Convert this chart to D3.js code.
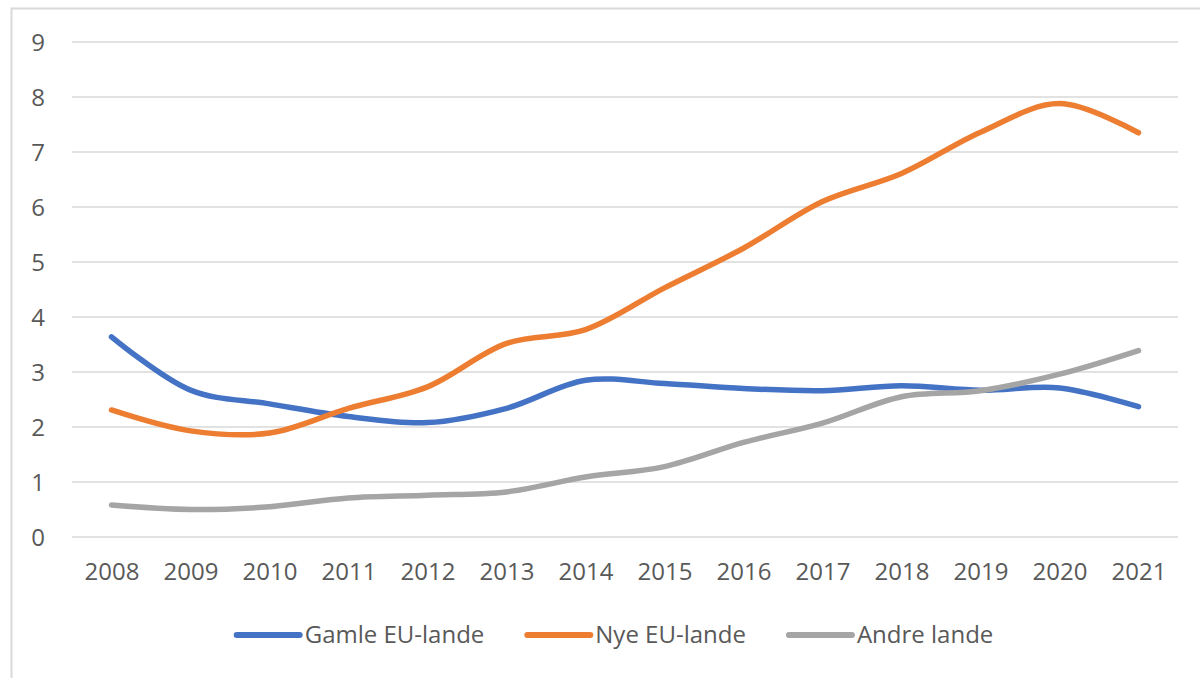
<!DOCTYPE html>
<html>
<head>
<meta charset="utf-8">
<script src="https://cdn.jsdelivr.net/npm/d3@7"></script>
<style>
  body { margin: 0; background: #fff; }
  svg { display: block; }
  text { font-family: "Open Sans", sans-serif; fill: #595959; }
</style>
</head>
<body>
<div id="app"></div>
<script>
const years = [2008, 2009, 2010, 2011, 2012, 2013, 2014, 2015, 2016, 2017, 2018, 2019, 2020, 2021];
const yTicks = [0, 1, 2, 3, 4, 5, 6, 7, 8, 9];

const gamle = [3.64, 2.67, 2.42, 2.19, 2.08, 2.34, 2.85, 2.79, 2.70, 2.66, 2.75, 2.67, 2.71, 2.37];
const nye   = [2.31, 1.93, 1.89, 2.34, 2.73, 3.52, 3.77, 4.53, 5.25, 6.10, 6.61, 7.36, 7.88, 7.35];
const andre = [0.58, 0.50, 0.55, 0.71, 0.76, 0.82, 1.09, 1.28, 1.72, 2.07, 2.55, 2.66, 2.96, 3.39];

const seriesNames = ['Gamle EU-lande', 'Nye EU-lande', 'Andre lande'];
const seriesColors = ['#4472c4', '#ed7d31', '#a5a5a5'];

const series = [gamle, nye, andre].map((vals, i) => ({
  name: seriesNames[i],
  color: seriesColors[i],
  values: vals.map((v, j) => ({ year: years[j], value: v }))
}));

const width = 1200;
const height = 678;

const svg = d3.select('#app')
  .append('svg')
  .attr('width', width)
  .attr('height', height);

// chart border
svg.append('rect')
  .attr('x', 11.5)
  .attr('y', 8.5)
  .attr('width', 1200)
  .attr('height', 700)
  .attr('fill', 'none')
  .attr('stroke', '#d9d9d9')
  .attr('stroke-width', 2);

const x = d3.scalePoint()
  .domain(years)
  .range([72, 1178])
  .padding(0.5);

const y = d3.scaleLinear()
  .domain([0, 9])
  .range([537, 42]);

// gridlines
svg.append('g')
  .selectAll('line')
  .data(yTicks)
  .join('line')
  .attr('x1', 72)
  .attr('x2', 1178)
  .attr('y1', d => y(d))
  .attr('y2', d => y(d))
  .attr('stroke', '#d9d9d9')
  .attr('stroke-width', 1.5);

// y axis labels
const yAxis = svg.append('g')
  .attr('transform', 'translate(45,0)')
  .call(d3.axisLeft(y).tickValues(yTicks).tickSize(0).tickPadding(0));
yAxis.select('.domain').remove();
yAxis.selectAll('text')
  .style('font-size', '24px')
  .attr('dy', '0.35em')
  .attr('fill', '#595959');

// x axis labels
const xAxis = svg.append('g')
  .attr('transform', 'translate(0,562)')
  .call(d3.axisBottom(x).tickSize(0).tickPadding(0));
xAxis.select('.domain').remove();
xAxis.selectAll('text')
  .style('font-size', '24px')
  .attr('dy', '0.75em')
  .attr('fill', '#595959');

const line = d3.line()
  .x(d => x(d.year))
  .y(d => y(d.value))
  .curve(d3.curveCatmullRom.alpha(0.5));

svg.append('g')
  .selectAll('path')
  .data(series)
  .join('path')
  .attr('d', d => line(d.values))
  .attr('fill', 'none')
  .attr('stroke', d => d.color)
  .attr('stroke-width', 5.5)
  .attr('stroke-linecap', 'round')
  .attr('stroke-linejoin', 'round');

// legend
const legend = svg.append('g');
const items = legend.selectAll('g')
  .data(series)
  .join('g');

items.append('line')
  .attr('x1', 0)
  .attr('x2', 63)
  .attr('y1', 0)
  .attr('y2', 0)
  .attr('stroke', d => d.color)
  .attr('stroke-width', 6)
  .attr('stroke-linecap', 'round');

items.append('text')
  .attr('x', 68)
  .attr('dy', '0.35em')
  .style('font-size', '24px')
  .text(d => d.name);

let offset = 0;
const positions = [];
items.each(function () {
  const w = this.querySelector('text').getComputedTextLength();
  positions.push(offset);
  offset += 68 + w + 43;
});
const total = offset - 43;
const start = 615 - total / 2;
items.attr('transform', (d, i) => `translate(${start + positions[i]},635)`);
</script>
</body>
</html>
